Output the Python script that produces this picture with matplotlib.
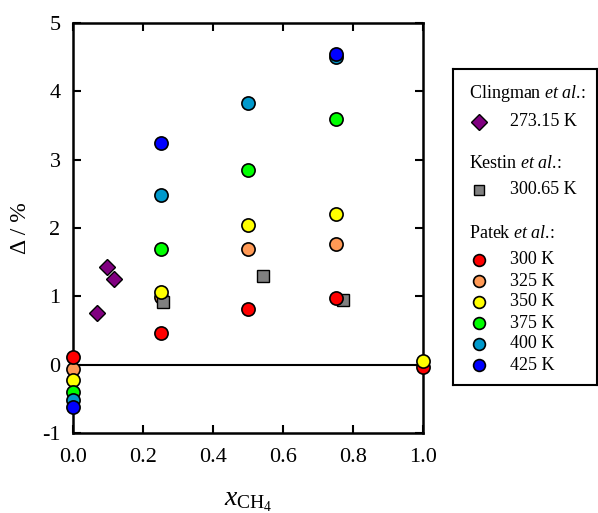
import matplotlib
matplotlib.use("Agg")
import matplotlib.pyplot as plt

plt.rcParams['font.family'] = ['Liberation Serif', 'DejaVu Serif']
plt.rcParams['mathtext.fontset'] = 'custom'
plt.rcParams['mathtext.rm'] = 'Liberation Serif'
plt.rcParams['mathtext.it'] = 'Liberation Serif:italic'

# ---- data ----
patek_x = [0.0, 0.25, 0.5, 0.75, 1.0]
patek_300 = [0.11, 0.46, 0.82, 0.98, -0.04]
patek_325_x = [0.0, 0.25, 0.5, 0.75]
patek_325 = [-0.06, 0.99, 1.70, 1.77]
patek_350 = [-0.23, 1.07, 2.05, 2.20, 0.05]
patek_375_x = [0.0, 0.25, 0.5, 0.75]
patek_375 = [-0.40, 1.70, 2.85, 3.59]
patek_400_x = [0.0, 0.25, 0.5, 0.75]
patek_400 = [-0.51, 2.49, 3.83, 4.50]
patek_425_x = [0.0, 0.25, 0.75]
patek_425 = [-0.62, 3.25, 4.54]

kestin_x = [0.256, 0.544, 0.772]
kestin_y = [0.92, 1.30, 0.94]

clingman_x = [0.069, 0.097, 0.117]
clingman_y = [0.76, 1.43, 1.26]

xticks = [0.0, 0.2, 0.4, 0.6, 0.8, 1.0]
xticklabels = ['0.0', '0.2', '0.4', '0.6', '0.8', '1.0']
yticks = [-1, 0, 1, 2, 3, 4, 5]
yticklabels = ['-1', '0', '1', '2', '3', '4', '5']

c300, c325, c350, c375, c400, c425 = '#ff0000', '#ff9955', '#ffff00', '#00ff00', '#0099cc', '#0000ff'
cpurple, cgray = '#800080', '#808080'

fig = plt.figure(figsize=(5.98, 5.13), dpi=100)
ax = fig.add_axes([73/598, 80/513, 350/598, 410/513])

ms = 9.5
kw = dict(linestyle='none', marker='o', markersize=ms, markeredgecolor='black', markeredgewidth=1.2, clip_on=False)
ax.axhline(0, color='black', lw=1.5, zorder=1)
ax.plot(clingman_x, clingman_y, linestyle='none', marker='D', markersize=8.5, markerfacecolor=cpurple,
        markeredgecolor='black', markeredgewidth=1.0, zorder=3)
ax.plot(patek_325_x, patek_325, markerfacecolor=c325, zorder=3, **kw)
ax.plot(kestin_x, kestin_y, linestyle='none', marker='s', markersize=8.5, markerfacecolor=cgray,
        markeredgecolor='black', markeredgewidth=1.0, zorder=4)
ax.plot(patek_x, patek_300, markerfacecolor=c300, zorder=5, **kw)
ax.plot(patek_x, patek_350, markerfacecolor=c350, zorder=6, **kw)
ax.plot(patek_375_x, patek_375, markerfacecolor=c375, zorder=7, **kw)
ax.plot(patek_400_x, patek_400, markerfacecolor=c400, zorder=8, **kw)
ax.plot(patek_425_x, patek_425, markerfacecolor=c425, zorder=9, **kw)

ax.set_xlim(0, 1)
ax.set_ylim(-1, 5)
ax.set_xticks(xticks)
ax.set_xticklabels(xticklabels)
ax.set_yticks(yticks)
ax.set_yticklabels(yticklabels)
ax.tick_params(direction='in', length=6, width=1.5, top=True, right=True, labelsize=16)
ax.tick_params(axis='x', pad=11)
ax.tick_params(axis='y', pad=9)
for s in ax.spines.values():
    s.set_linewidth(1.8)
ax.set_xlabel(r'$x_{\mathrm{CH_4}}$', fontsize=20, labelpad=16)
ax.set_ylabel('Δ / %', fontsize=17, labelpad=8)

# ---- legend panel ----
W, H = 144, 316
lax = fig.add_axes([453/598, (513-385)/513, W/598, H/513])
lax.set_xlim(0, W)
lax.set_ylim(H, 0)
lax.set_xticks([])
lax.set_yticks([])
for s in lax.spines.values():
    s.set_linewidth(1.5)

fs = 13
tx, mx, lx = 16, 26, 57
lax.text(tx, 25, r'Clingman $\it{et\ al}$.:', fontsize=fs, va='center')
lax.plot([mx], [53], linestyle='none', marker='D', markersize=8, markerfacecolor=cpurple,
         markeredgecolor='black', markeredgewidth=1.0)
lax.text(lx, 53, '273.15 K', fontsize=fs, va='center')
lax.text(tx, 94, r'Kestin $\it{et\ al}$.:', fontsize=fs, va='center')
lax.plot([mx], [121], linestyle='none', marker='s', markersize=7.5, markerfacecolor=cgray,
         markeredgecolor='black', markeredgewidth=1.0)
lax.text(lx, 121, '300.65 K', fontsize=fs, va='center')
lax.text(tx, 164, r'Patek $\it{et\ al}$.:', fontsize=fs, va='center')
leg_labels = ['300 K', '325 K', '350 K', '375 K', '400 K', '425 K']
leg_colors = [c300, c325, c350, c375, c400, c425]
for i, (lab, col) in enumerate(zip(leg_labels, leg_colors)):
    yy = 191 + i * 21
    lax.plot([mx], [yy], linestyle='none', marker='o', markersize=8.5, markerfacecolor=col,
             markeredgecolor='black', markeredgewidth=1.2)
    lax.text(lx, yy, lab, fontsize=fs, va='center')

fig.savefig('out.png', dpi=100)
